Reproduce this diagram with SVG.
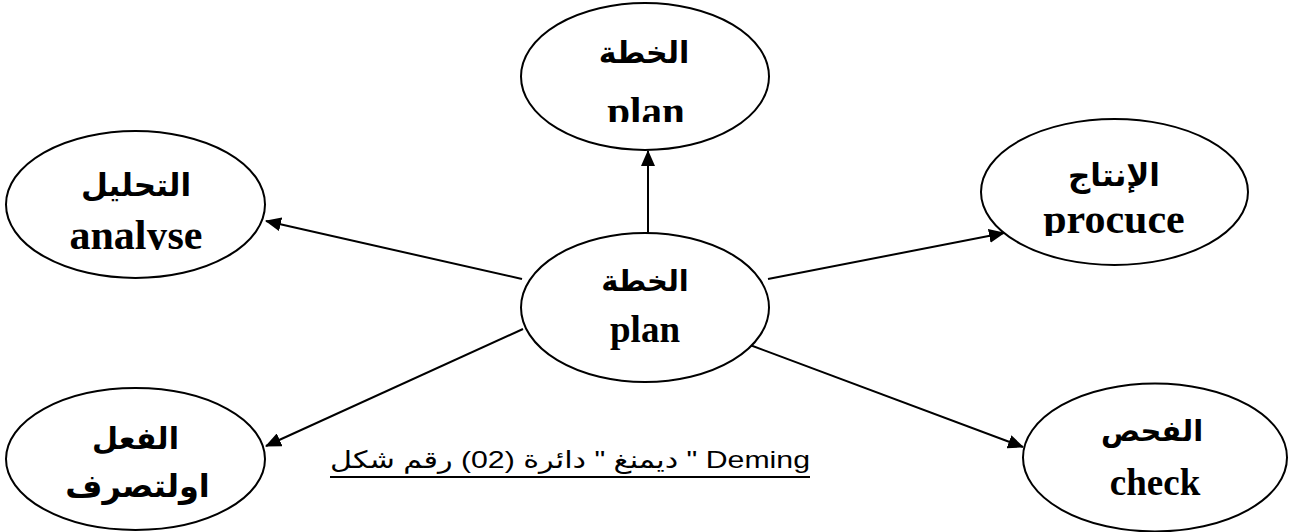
<svg xmlns="http://www.w3.org/2000/svg" width="1292" height="532" viewBox="0 0 1292 532">
<style>
.node ellipse{fill:#fff;stroke:#000;stroke-width:2}
.ar{font-family:"Liberation Serif","DejaVu Sans",serif;font-weight:bold;fill:#000;text-anchor:middle}
.ars{font-family:"Liberation Sans","DejaVu Sans",sans-serif;font-weight:bold;fill:#000;text-anchor:middle}
.en{font-family:"Liberation Serif","Times New Roman",serif;font-weight:bold;fill:#000;text-anchor:middle}
.conn line{stroke:#000;stroke-width:2;marker-end:url(#arr)}
.cap{font-family:"Liberation Sans","DejaVu Sans",sans-serif;font-size:24px;fill:#000}
</style>
<defs>
<marker id="arr" markerUnits="userSpaceOnUse" markerWidth="16" markerHeight="14" refX="15" refY="7" orient="auto">
<path d="M0,0 L16,7 L0,14 z" fill="#000"/>
</marker>
<clipPath id="c1"><rect x="520" y="0" width="250" height="122"/></clipPath>
<clipPath id="c2"><rect x="0" y="100" width="280" height="150"/></clipPath>
<clipPath id="c3"><rect x="970" y="100" width="300" height="136"/></clipPath>
</defs>
<rect width="1292" height="532" fill="#fff"/>
<g class="conn" id="connectors">
<line x1="648" y1="233" x2="648" y2="151"/>
<line x1="522" y1="279" x2="266" y2="221"/>
<line x1="768" y1="279" x2="1004" y2="233"/>
<line x1="523" y1="329" x2="266" y2="446"/>
<line x1="750" y1="345" x2="1023" y2="447"/>
</g>
<g class="node" id="top-plan">
<ellipse cx="645" cy="76.5" rx="124" ry="73.5"/>
<text class="ar" x="644" y="63" font-size="30">الخطة</text>
<text class="en" x="646" y="125" font-size="41" clip-path="url(#c1)">plan</text>
</g>
<g class="node" id="analyse">
<ellipse cx="135.5" cy="204.5" rx="129.5" ry="73.5"/>
<text class="ar" x="136" y="196" font-size="31">التحليل</text>
<text class="en" x="136" y="249" font-size="42" clip-path="url(#c2)">analyse</text>
</g>
<g class="node" id="produce">
<ellipse cx="1114.5" cy="192" rx="133.5" ry="73"/>
<text class="ar" x="1114" y="186" font-size="31">الإنتاج</text>
<text class="en" x="1114" y="233" font-size="42" clip-path="url(#c3)">procuce</text>
</g>
<g class="node" id="center-plan">
<ellipse cx="645" cy="307.5" rx="124" ry="74.5"/>
<text class="ar" x="645" y="291" font-size="29">الخطة</text>
<text class="en" x="645" y="342" font-size="37">plan</text>
</g>
<g class="node" id="act">
<ellipse cx="135.5" cy="459" rx="129.5" ry="71"/>
<text class="ars" x="135.5" y="449" font-size="30">الفعل</text>
<text class="ars" x="137.5" y="497" font-size="32">اولتصرف</text>
</g>
<g class="node" id="check">
<ellipse cx="1155" cy="457.5" rx="132" ry="74"/>
<text class="ar" x="1152" y="441" font-size="29">الفحص</text>
<text class="en" x="1155" y="495" font-size="37">check</text>
</g>
<g id="caption">
<text class="cap" x="330" y="468" textLength="480" lengthAdjust="spacingAndGlyphs">&#x202B;Deming " ديمنغ " دائرة (02) رقم شكل&#x202C;</text>
<line x1="330" y1="477" x2="810" y2="477" stroke="#000" stroke-width="2"/>
</g>
</svg>
